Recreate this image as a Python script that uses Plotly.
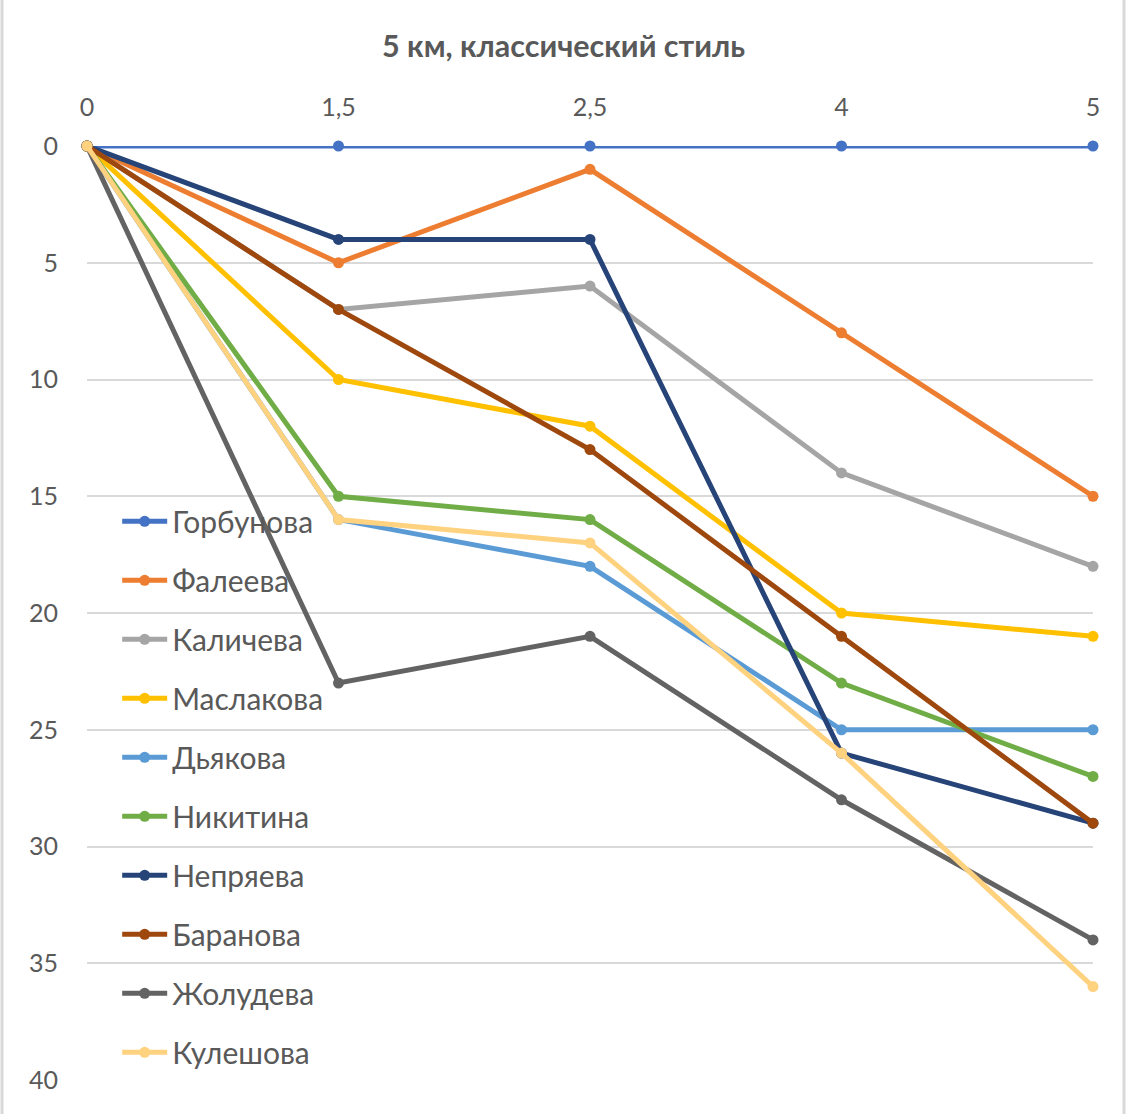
import plotly.graph_objects as go

x_labels = ["0", "1,5", "2,5", "4", "5"]
names = ["Горбунова", "Фалеева", "Каличева", "Маслакова", "Дьякова",
         "Никитина", "Непряева", "Баранова", "Жолудева", "Кулешова"]
gorbunova = [0, 0, 0, 0, 0]
faleeva = [0, 5, 1, 8, 15]
kalicheva = [0, 7, 6, 14, 18]
maslakova = [0, 10, 12, 20, 21]
dyakova = [0, 16, 18, 25, 25]
nikitina = [0, 15, 16, 23, 27]
nepryaeva = [0, 4, 4, 26, 29]
baranova = [0, 7, 13, 21, 29]
zholudeva = [0, 23, 21, 28, 34]
kuleshova = [0, 16, 17, 26, 36]
series = [gorbunova, faleeva, kalicheva, maslakova, dyakova,
          nikitina, nepryaeva, baranova, zholudeva, kuleshova]
colors = ["#4472C4", "#ED7D31", "#A5A5A5", "#FFC000", "#5B9BD5",
          "#70AD47", "#264478", "#9E480E", "#636363", "#FFD280"]

FONT = "Lato"
TXT = "#595959"

fig = go.Figure()
for i, (n, s, c) in enumerate(zip(names, series, colors)):
    fig.add_trace(go.Scatter(
        x=x_labels, y=s, name=n, mode="lines+markers",
        line=dict(color=c, width=5),
        marker=dict(color=c, size=11),
        legendgroup=f"g{i}", cliponaxis=False,
    ))

fig.update_layout(
    width=1127, height=1114,
    margin=dict(l=87, r=34, t=146, b=34),
    paper_bgcolor="white", plot_bgcolor="white",
    title=dict(text="<b>5 км, классический стиль</b>", x=0.5, xref="container",
               xanchor="center", y=1 - 46 / 1114, yanchor="middle",
               font=dict(family=FONT, size=30.5, color=TXT)),
    showlegend=True,
    legend=dict(x=0.03, y=0.626, xanchor="left", yanchor="top",
                bgcolor="rgba(0,0,0,0)", font=dict(family=FONT, size=30, color=TXT),
                tracegroupgap=17, itemwidth=45),
    font=dict(family=FONT, color=TXT),
)
fig.update_xaxes(type="category", side="top", range=[0, 4],
                 showgrid=False, showline=False, zeroline=False,
                 ticks="", ticklabelstandoff=24,
                 tickfont=dict(family=FONT, size=25, color=TXT))
fig.update_yaxes(range=[40, 0], dtick=5, tick0=0,
                 showgrid=True, gridcolor="#D9D9D9", gridwidth=2,
                 zeroline=False, showline=False, ticks="", ticklabelstandoff=28,
                 tickfont=dict(family=FONT, size=25, color=TXT))

for xp in [(2 - 87) / 1006, (1124 - 87) / 1006]:
    fig.add_shape(type="line", xref="paper", yref="paper",
                  x0=xp, x1=xp, y0=-34 / 934, y1=1 + 146 / 934,
                  line=dict(color="#D9D9D9", width=3))

fig.write_html("out.html")
